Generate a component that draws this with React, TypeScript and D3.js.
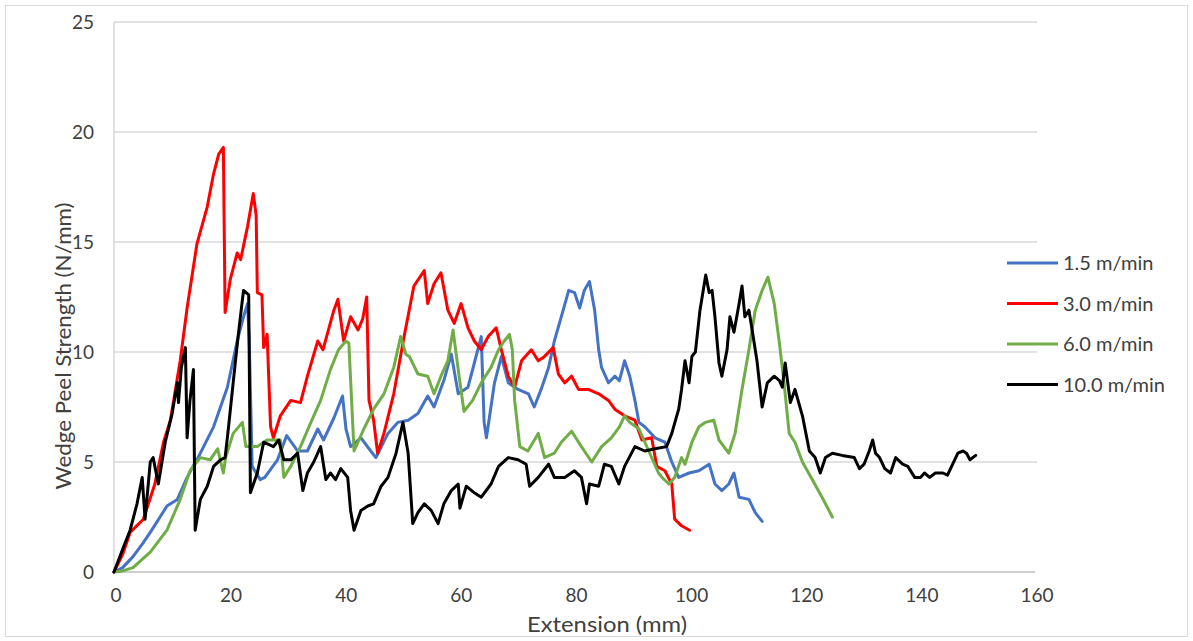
import React from "react";
import * as d3 from "d3";

// values, [extension mm, strength N/mm]
const speed15: [number, number][] = [
  [0, 0], [1.5, 0.2], [3.3, 0.7], [5, 1.3], [6.3, 1.8], [8, 2.5], [9.2, 3.0], [11, 3.3], [12.7, 4.3],
  [15, 5.4], [17.3, 6.6], [19.7, 8.4], [21.4, 10.5], [22.5, 11.6], [23.2, 12.2], [23.5, 10.5], [24, 4.8],
  [25.4, 4.2], [26.2, 4.3], [28.4, 5.1], [30, 6.2], [31.9, 5.5], [33.6, 5.5], [35.4, 6.5], [36.4, 6.0],
  [38.2, 7.0], [39.7, 8.0], [40.3, 6.5], [41.1, 5.7], [42.9, 6.1], [44.6, 5.5], [45.5, 5.2], [47.6, 6.3],
  [49.3, 6.8], [51.1, 6.9], [52.8, 7.2], [54.5, 8.0], [55.6, 7.5], [57.3, 8.7], [58.6, 9.9], [59.8, 8.1],
  [61.5, 8.4], [62.6, 9.5], [63.8, 10.7], [64.3, 6.8], [64.7, 6.1], [66.1, 8.6], [67.3, 9.8], [68.5, 8.6],
  [70.2, 8.3], [72, 8.1], [73, 7.5], [74.2, 8.3], [75.5, 9.3], [76.5, 10.5], [77.7, 11.6], [79, 12.8],
  [80, 12.7], [80.9, 12.0], [81.7, 12.8], [82.6, 13.2], [83.5, 11.9], [84.2, 10.1], [84.7, 9.3],
  [85.9, 8.6], [87, 8.9], [87.8, 8.7], [88.7, 9.6], [89.6, 8.9], [90.5, 7.8], [91.2, 6.8], [92.2, 6.6],
  [94, 6.1], [95.7, 5.9], [96.9, 5.0], [98.1, 4.3], [99.9, 4.5], [101.6, 4.6], [103.4, 4.9], [104.4, 4.0],
  [105.6, 3.7], [106.8, 4.0], [107.7, 4.5], [108.6, 3.4], [110.3, 3.3], [111.4, 2.7], [112.6, 2.3],
];

const speed30: [number, number][] = [
  [0, 0], [1.5, 0.8], [2.8, 1.8], [5.1, 2.4], [7.1, 4.0], [8.6, 5.9], [9.8, 6.9], [11.5, 9.6], [12.7, 12.0],
  [14.4, 14.9], [16.2, 16.6], [17.3, 18.1], [18.2, 19.0], [19.0, 19.3], [19.3, 11.8], [20.2, 13.3],
  [21.4, 14.5], [22, 14.2], [23.2, 15.7], [24.2, 17.2], [24.7, 16.2], [24.9, 12.7], [25.7, 12.6],
  [26, 10.2], [26.6, 10.8], [27.2, 6.6], [27.7, 6.1], [28.9, 7.1], [30.7, 7.8], [32.4, 7.7], [33.6, 8.9],
  [35.4, 10.5], [36.3, 10.1], [38.2, 11.9], [38.9, 12.4], [39.9, 10.5], [41.1, 11.6], [42.4, 11.0],
  [43.2, 11.5], [43.9, 12.5], [44.3, 7.8], [45.1, 6.9], [45.8, 5.4], [46.9, 6.3], [48.6, 8.1],
  [50.4, 10.7], [52.1, 13.0], [53.9, 13.7], [54.5, 12.2], [55.6, 13.1], [56.8, 13.6], [58, 11.9],
  [59.1, 11.3], [60.3, 12.2], [61.5, 11.1], [62.6, 10.5], [63.8, 10.1], [65, 10.7], [66.4, 11.1],
  [67.3, 10.1], [68.5, 8.9], [69.6, 8.4], [70.8, 9.6], [72.5, 10.1], [73.7, 9.6], [74.8, 9.8],
  [76.3, 10.2], [77.2, 9.0], [78.3, 8.6], [79.5, 8.9], [80.7, 8.3], [82.4, 8.3], [84.2, 8.1], [85.9, 7.8],
  [87, 7.4], [88.7, 7.1], [90.5, 6.9], [91.7, 6.0], [93.4, 6.1], [94.3, 4.8], [95.7, 4.6], [96.9, 4.0],
  [97.4, 2.4], [98.6, 2.1], [100, 1.9],
];

const speed60: [number, number][] = [
  [0, 0], [1.5, 0.05], [3.3, 0.2], [6.3, 0.9], [9.2, 1.9], [11.5, 3.3], [13.2, 4.6], [15, 5.2],
  [16.7, 5.1], [18, 5.6], [19, 4.5], [19.4, 5.2], [20.7, 6.3], [22.3, 6.8], [22.9, 5.7], [24.9, 5.7],
  [26.6, 6.0], [28.9, 6.0], [29.5, 4.3], [30.7, 4.8], [32.4, 5.7], [34.2, 6.8], [35.9, 7.8], [37.6, 9.2],
  [39, 10.1], [40.3, 10.5], [40.8, 10.4], [41.7, 5.5], [43.4, 6.5], [45.1, 7.4], [46.9, 8.1], [48.6, 9.3],
  [49.8, 10.7], [50.7, 9.9], [51.3, 9.8], [52.8, 9.0], [54.5, 8.9], [55.6, 8.1], [56.8, 8.9], [58, 9.6],
  [58.9, 11.0], [59.8, 9.2], [60.8, 7.3], [62.3, 7.8], [63.8, 8.6], [65.5, 9.3], [66.8, 10.1],
  [67.8, 10.5], [68.7, 10.8], [69.2, 10.1], [69.6, 7.8], [70.5, 5.7], [71.9, 5.5], [73.7, 6.3],
  [74.8, 5.2], [76.5, 5.4], [77.7, 5.9], [79.5, 6.4], [81.2, 5.7], [83, 5.0], [84.7, 5.7], [86.4, 6.1],
  [87.8, 6.6], [88.7, 7.1], [89.6, 6.8], [91.2, 6.5], [92.9, 5.5], [94.6, 4.5], [95.2, 4.3], [96.4, 4.0],
  [97.4, 4.3], [98.6, 5.2], [99.2, 4.9], [100.4, 5.9], [101.6, 6.6], [102.7, 6.8], [104.2, 6.9],
  [105.1, 6.0], [106.8, 5.4], [107.9, 6.3], [109.1, 8.3], [110.3, 10.1], [111.4, 11.9], [112.6, 12.8],
  [113.6, 13.4], [114.7, 12.2], [115.6, 10.4], [116.4, 8.6], [117.3, 6.3], [118.3, 5.9], [119.6, 5.0],
  [121.3, 4.2], [123, 3.4], [124.8, 2.5],
];

const speed100: [number, number][] = [
  [0, 0], [1.6, 1.1], [2.8, 1.9], [4, 3.1], [4.9, 4.3], [5.4, 2.4], [6.3, 5.0], [6.8, 5.2], [7.7, 4.0],
  [8.9, 5.9], [10.1, 7.2], [11, 8.6], [11.2, 7.7], [11.7, 9.3], [12.4, 10.2], [12.7, 6.1], [13.2, 7.8],
  [13.8, 9.2], [14.1, 1.9], [15, 3.3], [16.2, 3.9], [17.3, 4.8], [18.5, 5.1], [19.3, 5.2], [19.9, 6.6],
  [20.7, 8.6], [21.6, 10.8], [22.5, 12.8], [23.4, 12.6], [23.7, 3.6], [24.9, 4.5], [26, 5.9], [27.7, 5.7],
  [28.6, 6.0], [29.5, 5.1], [30.7, 5.1], [31.9, 5.4], [32.8, 3.7], [33.6, 4.5], [34.7, 5.0], [35.9, 5.7],
  [36.8, 4.2], [37.6, 4.5], [38.5, 4.2], [39.4, 4.7], [40.6, 4.3], [41.1, 2.8], [41.7, 1.9], [42.9, 2.8],
  [44.1, 3.0], [45.1, 3.1], [46.4, 3.9], [47.6, 4.3], [49, 5.4], [50.2, 6.8], [51.1, 5.4], [51.9, 2.2],
  [52.8, 2.7], [53.9, 3.1], [55.1, 2.8], [56.3, 2.2], [57.3, 3.1], [58.6, 3.7], [59.8, 4.0], [60.1, 2.9],
  [61.2, 3.9], [62.6, 3.6], [63.8, 3.4], [65.5, 4.0], [66.8, 4.8], [68.5, 5.2], [70.2, 5.1], [71.6, 4.9],
  [72.2, 3.9], [73.7, 4.3], [75.5, 4.9], [76.5, 4.3], [78.3, 4.3], [80, 4.6], [81.2, 4.3], [82.1, 3.1],
  [82.6, 4.0], [84.2, 3.9], [85.2, 4.9], [86.4, 4.8], [87.7, 4.0], [88.7, 4.8], [90.5, 5.7], [92.2, 5.5],
  [94, 5.6], [96, 5.7], [96.9, 6.3], [98.1, 7.4], [98.6, 8.3], [99.2, 9.6], [99.9, 8.6], [100.4, 9.8],
  [101, 10.0], [101.8, 11.9], [102.8, 13.5], [103.4, 12.7], [103.9, 12.8], [104.4, 11.6], [105.1, 9.5],
  [105.6, 8.9], [106.5, 10.1], [107, 11.6], [107.7, 10.9], [108.6, 12.2], [109.1, 13.0], [109.6, 11.6],
  [110.3, 11.9], [110.8, 11.1], [111.7, 9.6], [112.6, 7.5], [113.5, 8.6], [114.7, 8.9], [115.6, 8.7],
  [116.1, 8.4], [116.6, 9.5], [117.5, 7.7], [118.3, 8.3], [119.6, 7.1], [120.8, 5.5], [121.8, 5.2],
  [122.7, 4.5], [123.6, 5.2], [124.8, 5.4], [126.5, 5.3], [128.6, 5.2], [129.5, 4.7], [130.3, 4.9],
  [131.2, 5.5], [131.8, 6.0], [132.3, 5.4], [133, 5.2], [133.9, 4.7], [134.9, 4.5], [135.8, 5.2],
  [137, 4.9], [137.9, 4.8], [139.1, 4.3], [140.1, 4.3], [140.8, 4.5], [141.7, 4.3], [142.7, 4.5],
  [144, 4.5], [144.8, 4.4], [145.7, 4.9], [146.6, 5.4], [147.5, 5.5], [148.1, 5.4], [148.7, 5.1],
  [149.7, 5.3],
];

const seriesNames = ["1.5 m/min", "3.0 m/min", "6.0 m/min", "10.0 m/min"];
const seriesColors = ["#4472C4", "#FF0000", "#70AD47", "#000000"];
const seriesData = [speed15, speed30, speed60, speed100];

const xTicks = [0, 20, 40, 60, 80, 100, 120, 140, 160];
const yTicks = [0, 5, 10, 15, 20, 25];

const W = 1193;
const H = 641;
const font = "Lato, 'Open Sans', sans-serif";

export default function App() {
  const x = d3.scaleLinear().domain([0, 160]).range([114, 1035]);
  const y = d3.scaleLinear().domain([0, 25]).range([572, 22]);
  const line = d3
    .line<[number, number]>()
    .x((d) => x(d[0]))
    .y((d) => y(d[1]));

  return (
    <svg
      width={W}
      height={H}
      style={{ position: "absolute", left: 0, top: 0, background: "#fff" }}
    >
      <rect x={5.5} y={5.5} width={W - 11} height={H - 10} fill="#fff" stroke="#d9d9d9" />
      {yTicks
        .filter((t) => t > 0)
        .map((t) => (
          <line key={t} x1={114} x2={1037} y1={y(t)} y2={y(t)} stroke="#d9d9d9" strokeWidth={1.5} />
        ))}
      <line x1={114} x2={114} y1={22} y2={572} stroke="#d9d9d9" strokeWidth={1.5} />
      <line x1={114} x2={1035} y1={572} y2={572} stroke="#bfbfbf" strokeWidth={1.5} />

      {yTicks.map((t) => (
        <text
          key={t}
          x={94}
          y={y(t)}
          dy="0.35em"
          textAnchor="end"
          fontFamily={font}
          fontSize={19}
          fill="#404040"
        >
          {t}
        </text>
      ))}
      {xTicks.map((t) => (
        <text
          key={t}
          x={x(t) + 2}
          y={595}
          dy="0.35em"
          textAnchor="middle"
          fontFamily={font}
          fontSize={19}
          fill="#404040"
        >
          {t}
        </text>
      ))}

      <text
        x={607}
        y={625}
        dy="0.35em"
        textAnchor="middle"
        fontFamily={font}
        fontSize={21}
        fill="#404040"
        textLength={160}
        lengthAdjust="spacingAndGlyphs"
      >
        Extension (mm)
      </text>
      <text
        transform={`translate(64,346) rotate(-90)`}
        dy="0.35em"
        textAnchor="middle"
        fontFamily={font}
        fontSize={21}
        fill="#404040"
        textLength={287}
        lengthAdjust="spacingAndGlyphs"
      >
        Wedge Peel Strength (N/mm)
      </text>

      {seriesData.map((d, i) => (
        <path
          key={seriesNames[i]}
          d={line(d) ?? ""}
          fill="none"
          stroke={seriesColors[i]}
          strokeWidth={3}
          strokeLinejoin="round"
          strokeLinecap="round"
        />
      ))}

      {seriesNames.map((name, i) => {
        const ly = 263 + i * 40.5;
        return (
          <g key={name}>
            <line x1={1007} x2={1058} y1={ly} y2={ly} stroke={seriesColors[i]} strokeWidth={3} />
            <text
              x={1063}
              y={ly}
              dy="0.35em"
              fontFamily={font}
              fontSize={20}
              fill="#404040"
            >
              {name}
            </text>
          </g>
        );
      })}
    </svg>
  );
}
